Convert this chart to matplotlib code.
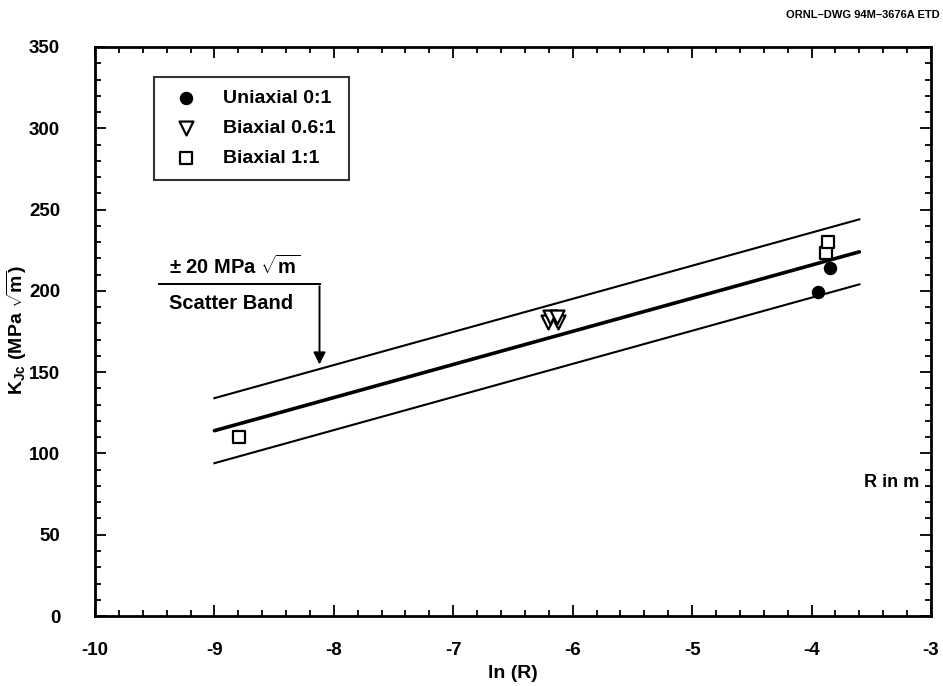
import matplotlib.pyplot as plt
import numpy as np
from matplotlib.ticker import MultipleLocator

plt.rcParams["font.family"] = ["Liberation Sans", "DejaVu Sans"]
plt.rcParams["font.weight"] = "bold"
plt.rcParams["axes.unicode_minus"] = False
plt.rcParams["mathtext.fontset"] = "custom"
plt.rcParams["mathtext.rm"] = "Liberation Sans:bold"
plt.rcParams["mathtext.it"] = "Liberation Sans:bold"
plt.rcParams["mathtext.bf"] = "Liberation Sans:bold"

# measured points
uni_x = [-3.95, -3.85]
uni_y = [199, 214]
biax06_x = [-6.21, -6.12, -6.19, -6.13]
biax06_y = [181, 181, 184, 184]
biax11_x = [-8.79, -3.88, -3.86]
biax11_y = [110, 223, 230]

# fit line and +/-20 scatter band
fit_x = [-9.0, -3.6]
fit_y = [114, 224]
band = 20

fig = plt.figure(figsize=(9.43, 6.86), dpi=100)
ax = fig.add_axes([0.1007, 0.102, 0.8866, 0.8295])

fx = np.array(fit_x)
fy = np.array(fit_y)
ax.plot(fx, fy, color="black", lw=2.6, solid_capstyle="round")
ax.plot(fx, fy + band, color="black", lw=1.5)
ax.plot(fx, fy - band, color="black", lw=1.5)

ax.scatter(uni_x, uni_y, marker="o", s=75, color="black", zorder=3, label="Uniaxial 0:1")
ax.scatter(biax06_x, biax06_y, marker="v", s=100, facecolor="white", edgecolor="black",
           linewidth=1.6, zorder=3, label="Biaxial 0.6:1")
ax.scatter(biax11_x, biax11_y, marker="s", s=85, facecolor="white", edgecolor="black",
           linewidth=1.6, zorder=3, label="Biaxial 1:1")

ax.set_xlim(-10, -3)
ax.set_ylim(0, 350)
ax.xaxis.set_major_locator(MultipleLocator(1))
ax.xaxis.set_minor_locator(MultipleLocator(0.2))
ax.yaxis.set_major_locator(MultipleLocator(50))
ax.yaxis.set_minor_locator(MultipleLocator(10))
ax.tick_params(which="both", direction="in", top=True, right=True, width=1.3,
               labelsize=13.5)
ax.tick_params(axis="x", pad=19)
ax.tick_params(axis="y", pad=25)
ax.tick_params(which="major", length=8)
ax.tick_params(which="minor", length=4)
for lbl in ax.get_xticklabels() + ax.get_yticklabels():
    lbl.set_fontweight("bold")
for sp in ax.spines.values():
    sp.set_linewidth(2)

ax.set_xlabel("ln (R)", fontsize=14, fontweight="bold")
ax.set_ylabel(r"K$_{\mathrm{Jc}}$ (MPa $\sqrt{\mathrm{m}}$)", fontsize=14,
              fontweight="bold")
ax.xaxis.set_label_coords(0.5, -0.086)
ax.yaxis.set_label_coords(-0.079, 0.503)

leg = ax.legend(loc="upper left", bbox_to_anchor=(0.071, 0.948), fontsize=14,
                frameon=True, fancybox=False, edgecolor="black", handletextpad=0.9,
                borderpad=0.65, labelspacing=0.65, borderaxespad=0)
leg.get_frame().set_linewidth(1.5)
for t in leg.get_texts():
    t.set_fontweight("bold")

# scatter band annotation
ax.text(-9.38, 208, r"$\pm$ 20 MPa $\sqrt{\mathrm{m}}$", fontsize=14.5, fontweight="bold",
        va="bottom", ha="left")
ax.plot([-9.46, -8.12], [204, 204], color="black", lw=1.4)
ax.text(-9.38, 198, "Scatter Band", fontsize=14.5, fontweight="bold", va="top", ha="left")
ax.annotate("", xy=(-8.12, 153), xytext=(-8.12, 204.5),
            arrowprops=dict(arrowstyle="-|>", color="black", lw=1.4, mutation_scale=18))

ax.text(-3.1, 82, "R in m", fontsize=13, fontweight="bold", ha="right", va="center")
fig.text(0.997, 0.978, "ORNL\u2013DWG 94M\u20133676A ETD", fontsize=8, fontweight="bold",
         ha="right", va="center")

fig.savefig("out.png", dpi=100)
